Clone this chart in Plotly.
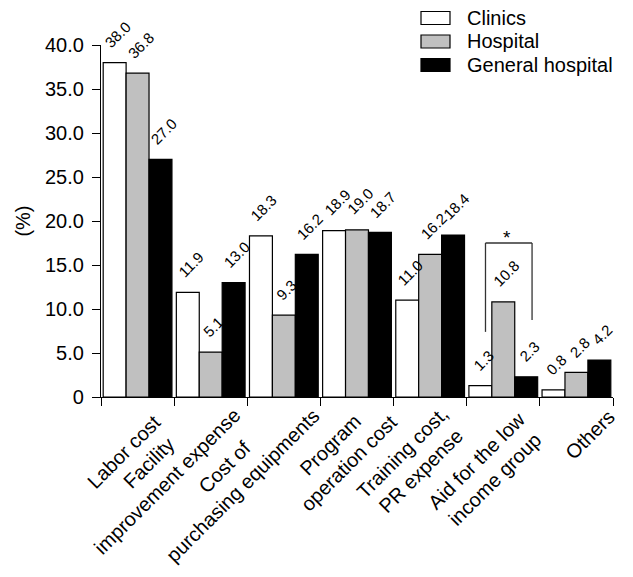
import plotly.graph_objects as go

categories = ["Labor cost", "Facility<br>improvement expense", "Cost of<br>purchasing equipments",
              "Program<br>operation cost", "Training cost,<br>PR expense",
              "Aid for the low<br>income group", "Others"]
series_names = ["Clinics", "Hospital", "General hospital"]
clinics = [38.0, 11.9, 18.3, 18.9, 11.0, 1.3, 0.8]
hospital = [36.8, 5.1, 9.3, 19.0, 16.2, 10.8, 2.8]
general_hospital = [27.0, 13.0, 16.2, 18.7, 18.4, 2.3, 4.2]
y_tickvals = [0, 5, 10, 15, 20, 25, 30, 35, 40]
y_ticktext = ["0", "5.0", "10.0", "15.0", "20.0", "25.0", "30.0", "35.0", "40.0"]
bar_colors = ["#ffffff", "#c0c0c0", "#000000"]
sig_text = "*"
bracket_levels = [7.4, 17.5, 8.75]  # left leg bottom, top, right leg bottom
sig_category = 5

# ---- layout / styling ----
W, H = 633, 577
PAGE_OFFSET = 8  # default body margin of the html page
PLOT_X0, PLOT_X1, PLOT_Y0, PLOT_Y1 = 101, 613, 45, 397  # target plot box on screen
ML = PLOT_X0 - PAGE_OFFSET
MT = PLOT_Y0 - PAGE_OFFSET
PW, PH = PLOT_X1 - PLOT_X0, PLOT_Y1 - PLOT_Y0
MR = W - ML - PW
MB = H - MT - PH

def px_to_paper_x(px):
    return (px - PLOT_X0) / PW

def px_to_paper_y(py):
    return (PLOT_Y1 - py) / PH

# pixel shifts of the rotated category label boxes
label_xshift = [30, 37, 43, 47, 43, 47, 45]
label_yshift = [-11, 14, 14, 7, -3, -8, -6]

# legend geometry (screen pixels)
leg_box_x0, leg_box_x1 = 421, 450
leg_text_x = 465
leg_row_y0, leg_row_step, leg_box_h = 18.0, 23.5, 13

FONT = "Arial, Liberation Sans, sans-serif"
bargap = 0.06
bw = (1 - bargap) / 3

series = [clinics, hospital, general_hospital]
fig = go.Figure()
for name, vals, col in zip(series_names, series, bar_colors):
    fig.add_trace(go.Bar(
        x=categories, y=vals, name=name, showlegend=False,
        marker=dict(color=col, line=dict(color="#000000", width=1.2)),
    ))

annotations = []
shapes = []
for j, vals in enumerate(series):
    for i, v in enumerate(vals):
        annotations.append(dict(
            x=i + (j - 1) * bw, y=v, xref="x", yref="y",
            text=f"{v:.1f}", showarrow=False, textangle=-45,
            xanchor="center", yanchor="bottom", xshift=3, yshift=9,
            font=dict(family=FONT, size=15, color="#000000"),
        ))

# rotated category labels (centered lines)
for i, cat in enumerate(categories):
    annotations.append(dict(
        x=i, y=0, xref="x", yref="y", text=cat, showarrow=False, textangle=-45,
        align="center", xanchor="right", yanchor="top",
        xshift=label_xshift[i], yshift=label_yshift[i],
        font=dict(family=FONT, size=20, color="#000000"),
    ))

# legend (drawn manually to match the wide rectangular keys)
for k, (name, col) in enumerate(zip(series_names, bar_colors)):
    cy = leg_row_y0 + k * leg_row_step
    shapes.append(dict(
        type="rect", xref="paper", yref="paper",
        x0=px_to_paper_x(leg_box_x0), x1=px_to_paper_x(leg_box_x1),
        y0=px_to_paper_y(cy + leg_box_h / 2), y1=px_to_paper_y(cy - leg_box_h / 2),
        fillcolor=col, line=dict(color="#000000", width=1.2),
    ))
    annotations.append(dict(
        x=px_to_paper_x(leg_text_x), y=px_to_paper_y(cy), xref="paper", yref="paper",
        text=name, showarrow=False, xanchor="left", yanchor="middle",
        font=dict(family=FONT, size=20, color="#000000"),
    ))

# significance bracket
xl = sig_category - bw + 0.07
xr = sig_category + bw + 0.08
shapes += [
    dict(type="line", xref="x", yref="y", x0=xl, x1=xl, y0=bracket_levels[0], y1=bracket_levels[1],
         line=dict(color="#333333", width=1.3)),
    dict(type="line", xref="x", yref="y", x0=xl, x1=xr, y0=bracket_levels[1], y1=bracket_levels[1],
         line=dict(color="#333333", width=1.3)),
    dict(type="line", xref="x", yref="y", x0=xr, x1=xr, y0=bracket_levels[2], y1=bracket_levels[1],
         line=dict(color="#333333", width=1.3)),
]
annotations.append(dict(
    x=(xl + xr) / 2 - 0.02, y=bracket_levels[1], xref="x", yref="y", text=sig_text,
    showarrow=False, xanchor="center", yanchor="bottom", yshift=-7,
    font=dict(family=FONT, size=19, color="#000000"),
))

fig.update_layout(
    width=W, height=H,
    margin=dict(l=ML, r=MR, t=MT, b=MB),
    plot_bgcolor="#ffffff", paper_bgcolor="#ffffff",
    barmode="group", bargap=bargap, bargroupgap=0,
    font=dict(family=FONT, size=18, color="#000000"),
    showlegend=False,
    xaxis=dict(
        type="category", tickson="boundaries", ticks="outside", ticklen=8, tickwidth=1.3,
        tickcolor="#000000", showline=True, linecolor="#000000", linewidth=1.3,
        showticklabels=False, showgrid=False, automargin=False,
        range=[-0.5, len(categories) - 0.5],
    ),
    yaxis=dict(
        range=[0, 40], tickvals=y_tickvals, ticktext=y_ticktext, ticks="outside", ticklen=8,
        tickwidth=1.3, tickcolor="#000000", showline=True, linecolor="#000000", linewidth=1.3,
        showgrid=False, zeroline=False, tickfont=dict(family=FONT, size=20),
        ticklabelstandoff=4, automargin=False,
        title=dict(text="(%)", font=dict(family=FONT, size=20), standoff=8),
    ),
    shapes=shapes,
    annotations=annotations,
)

fig.write_html("out.html")
